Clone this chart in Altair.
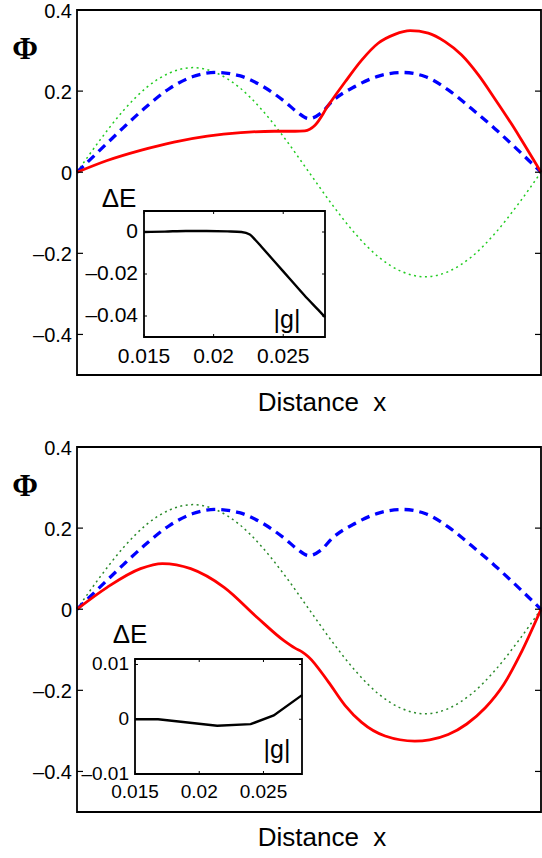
import altair as alt
import pandas as pd

# ---------------- data ----------------
# main panels: x is the normalised distance 0..1
green_x = [0.0, 0.05, 0.10, 0.15, 0.20, 0.25, 0.30, 0.35, 0.40, 0.45, 0.50,
           0.55, 0.60, 0.65, 0.70, 0.75, 0.80, 0.85, 0.90, 0.95, 1.0]
green_y = [0.0, 0.080, 0.152, 0.209, 0.245, 0.258, 0.245, 0.209, 0.152, 0.080, 0.0,
           -0.080, -0.152, -0.209, -0.245, -0.258, -0.245, -0.209, -0.152, -0.080, 0.0]

blue_x = [0.0, 0.05, 0.10, 0.15, 0.20, 0.25, 0.30, 0.35, 0.40, 0.45, 0.475, 0.50,
          0.525, 0.55, 0.60, 0.65, 0.70, 0.75, 0.80, 0.85, 0.90, 0.95, 1.0]
blue_y = [0.0, 0.055, 0.110, 0.162, 0.207, 0.236, 0.246, 0.238, 0.212, 0.172, 0.148, 0.132,
          0.145, 0.175, 0.212, 0.237, 0.246, 0.236, 0.203, 0.157, 0.108, 0.055, 0.0]

red_top_x = [0.0, 0.065, 0.137, 0.209, 0.281, 0.353, 0.425, 0.47, 0.491, 0.513, 0.5417, 0.578,
             0.614, 0.649, 0.685, 0.718, 0.757, 0.793, 0.829, 0.865, 0.90, 0.937, 0.955, 1.0]
red_top_y = [0.0, 0.029, 0.054, 0.0744, 0.089, 0.0976, 0.101, 0.101, 0.102, 0.116, 0.165, 0.223,
             0.277, 0.318, 0.340, 0.349, 0.343, 0.322, 0.289, 0.240, 0.182, 0.118, 0.085, 0.0]

red_bot_x = [0.0, 0.065, 0.137, 0.184, 0.245, 0.317, 0.389, 0.446, 0.47, 0.485, 0.4986, 0.5417,
             0.578, 0.6135, 0.664, 0.728, 0.76, 0.80, 0.84, 0.88, 0.92, 0.955, 1.0]
red_bot_y = [0.0, 0.054, 0.100, 0.1125, 0.100, 0.054, -0.021, -0.0775, -0.096, -0.105, -0.117, -0.179,
             -0.2375, -0.279, -0.3125, -0.325, -0.322, -0.309, -0.283, -0.243, -0.185, -0.112, 0.0]

# insets: Delta E versus |g|
g_top = [0.015, 0.0165, 0.018, 0.0195, 0.021, 0.022, 0.0226, 0.023, 0.0235, 0.0245,
         0.0255, 0.0265, 0.0275, 0.028]
dE_top = [0.0, 0.0002, 0.0005, 0.0005, 0.0003, 0.0, -0.0012, -0.0038, -0.0075, -0.0150,
          -0.0225, -0.0300, -0.0370, -0.0405]

g_bot = [0.015, 0.0168, 0.0214, 0.024, 0.0258, 0.028]
dE_bot = [0.0, 0.0, -0.0012, -0.0009, 0.0007, 0.0044]

# tick values / labels
main_ticks = [0.4, 0.2, 0.0, -0.2, -0.4]
main_labels = ["0.4", "0.2", "0", "\u20130.2", "\u20130.4"]
inset_xticks = [0.015, 0.02, 0.025]
inset_xlabels = ["0.015", "0.02", "0.025"]
top_inset_yticks = [0.0, -0.02, -0.04]
top_inset_ylabels = ["0", "\u20130.02", "\u20130.04"]
bot_inset_yticks = [0.01, 0.0, -0.01]
bot_inset_ylabels = ["0.01", "0", "\u20130.01"]

# ---------------- layout ----------------
W = 464
H = 802
SANS = "Liberation Sans"
SERIF = "Liberation Serif"
NB = "\u00a0"


def one():
    return pd.DataFrame({"k": [0]})


def main_panel(y0, y1, series):
    xs = alt.Scale(domain=[0, 1], range=[0, W], nice=False, zero=False)
    ys = alt.Scale(domain=[-0.5, 0.4], range=[y1, y0], nice=False, zero=False)
    layers = []
    for xv, yv, color, dash, sw in series:
        df = pd.DataFrame({"x": xv, "y": yv})
        kw = dict(color=color, strokeWidth=sw, interpolate="monotone")
        if dash:
            kw["strokeDash"] = dash
        layers.append(
            alt.Chart(df).mark_line(**kw).encode(
                x=alt.X("x:Q", scale=xs, axis=None),
                y=alt.Y("y:Q", scale=ys, axis=None),
            )
        )
    tdf = pd.DataFrame({"v": main_ticks, "lab": main_labels})
    yenc = alt.Y("v:Q", scale=ys, axis=None)
    layers.append(alt.Chart(tdf).mark_rule(color="black", strokeWidth=1.2).encode(
        y=yenc, x=alt.value(0), x2=alt.value(6)))
    layers.append(alt.Chart(tdf).mark_rule(color="black", strokeWidth=1.2).encode(
        y=yenc, x=alt.value(W - 6), x2=alt.value(W)))
    layers.append(alt.Chart(tdf).mark_text(
        align="right", baseline="middle", font=SANS, fontSize=20, color="black", dy=2).encode(
        y=yenc, x=alt.value(-5), text="lab:N"))
    layers.append(alt.Chart(one()).mark_rect(
        fillOpacity=0, stroke="black", strokeWidth=1.8).encode(
        x=alt.value(0), x2=alt.value(W), y=alt.value(y0), y2=alt.value(y1)))
    return alt.layer(*layers)


def inset(x0, x1, y0, y1, ydom, gx, de, interp, yt, ylab, fs, xlab_y, ylab_x):
    xs = alt.Scale(domain=[0.015, 0.028], range=[x0, x1], nice=False, zero=False)
    ys = alt.Scale(domain=ydom, range=[y1, y0], nice=False, zero=False)
    layers = []
    layers.append(alt.Chart(one()).mark_rect(fill="white", stroke="black", strokeWidth=1.8).encode(
        x=alt.value(x0), x2=alt.value(x1), y=alt.value(y0), y2=alt.value(y1)))
    df = pd.DataFrame({"g": gx, "e": de})
    layers.append(alt.Chart(df).mark_line(color="black", strokeWidth=2.4, interpolate=interp).encode(
        x=alt.X("g:Q", scale=xs, axis=None), y=alt.Y("e:Q", scale=ys, axis=None)))
    xdf = pd.DataFrame({"v": inset_xticks, "lab": inset_xlabels})
    xenc = alt.X("v:Q", scale=xs, axis=None)
    layers.append(alt.Chart(xdf).mark_rule(color="black", strokeWidth=1).encode(
        x=xenc, y=alt.value(y1), y2=alt.value(y1 - 3)))
    layers.append(alt.Chart(xdf).mark_rule(color="black", strokeWidth=1).encode(
        x=xenc, y=alt.value(y0), y2=alt.value(y0 + 3)))
    layers.append(alt.Chart(xdf).mark_text(
        align="center", baseline="middle", font=SANS, fontSize=fs, color="black").encode(
        x=xenc, y=alt.value(xlab_y), text="lab:N"))
    ydf = pd.DataFrame({"v": yt, "lab": ylab})
    yenc = alt.Y("v:Q", scale=ys, axis=None)
    layers.append(alt.Chart(ydf).mark_rule(color="black", strokeWidth=1).encode(
        y=yenc, x=alt.value(x0), x2=alt.value(x0 + 3)))
    layers.append(alt.Chart(ydf).mark_rule(color="black", strokeWidth=1).encode(
        y=yenc, x=alt.value(x1 - 3), x2=alt.value(x1)))
    layers.append(alt.Chart(ydf).mark_text(
        align="right", baseline="middle", font=SANS, fontSize=fs, color="black").encode(
        y=yenc, x=alt.value(ylab_x), text="lab:N"))
    return alt.layer(*layers)


def label(text, x, y, size, font=SANS, **kw):
    return alt.Chart(one()).mark_text(
        text=text, font=font, fontSize=size, align="center", baseline="middle",
        color="black", **kw).encode(x=alt.value(x), y=alt.value(y))


top = main_panel(0, 365, [
    (green_x, green_y, "#22cc22", [2, 3.5], 1.5),
    (blue_x, blue_y, "#0000ff", [9, 6], 3.3),
    (red_top_x, red_top_y, "#ff0000", None, 2.8),
])
bot = main_panel(437, 802, [
    (green_x, green_y, "#2a8a2a", [2, 3.5], 1.5),
    (blue_x, blue_y, "#0000ff", [9, 6], 3.3),
    (red_bot_x, red_bot_y, "#ff0000", None, 2.8),
])

top_in = inset(67, 248, 201, 327, [-0.05, 0.01], g_top, dE_top, "monotone",
               top_inset_yticks, top_inset_ylabels, 21, 347, 61)
bot_in = inset(58, 225, 649, 764, [-0.01, 0.011], g_bot, dE_bot, "linear",
               bot_inset_yticks, bot_inset_ylabels, 19, 782, 52)

dist = "Distance" + NB * 2 + "x"
texts = [
    label("\u03a6", -52, 40, 31, font=SERIF, fontWeight="bold"),
    label("\u03a6", -52, 477, 31, font=SERIF, fontWeight="bold"),
    label(dist, 245, 393, 26),
    label(dist, 245, 828, 26),
    label("\u0394E", 42, 189, 26),
    label("\u0394E", 53, 625, 26),
    label("|g|", 210, 310, 25),
    label("|g|", 200, 740, 25),
]

chart = alt.layer(top, top_in, bot, bot_in, *texts).resolve_scale(
    x="independent", y="independent"
).properties(
    width=W,
    height=H,
    padding={"left": 77, "top": 10, "right": 1, "bottom": 46},
    autosize=alt.AutoSizeParams(type="none"),
    background="white",
).configure_view(stroke=None)

chart.save("out.html", embed_options={"renderer": "svg", "actions": False})
